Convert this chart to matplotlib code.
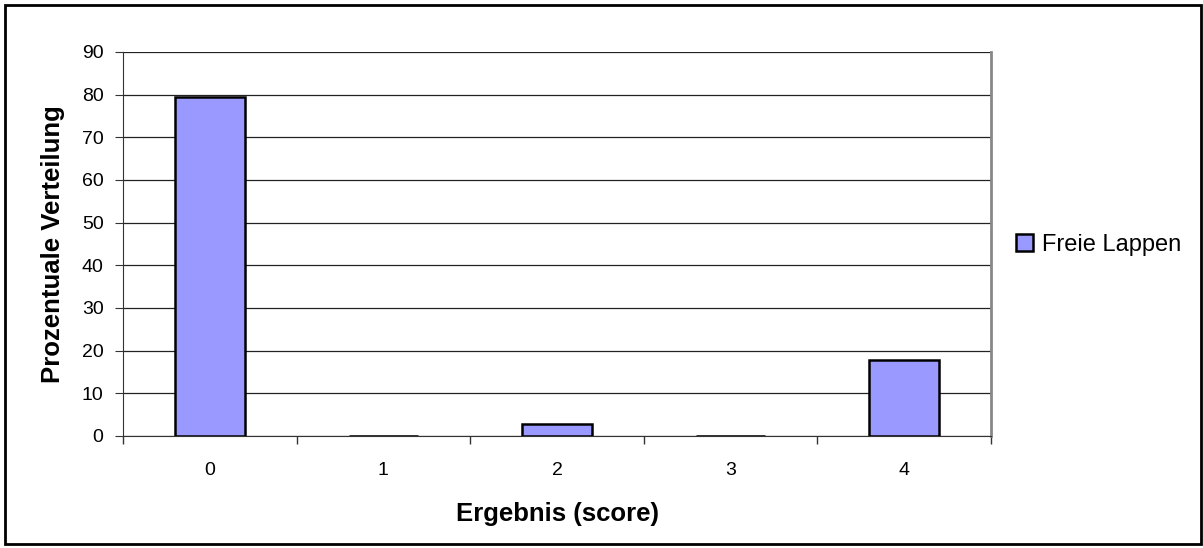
import matplotlib.pyplot as plt
import numpy as np
from matplotlib.patches import Rectangle

plt.rcParams['font.family'] = ['Liberation Sans', 'DejaVu Sans']

# Daten
kategorien = ['0', '1', '2', '3', '4']
werte = [79.4, 0, 2.9, 0, 17.7]
y_ticks = [0, 10, 20, 30, 40, 50, 60, 70, 80, 90]

W, H = 1203, 548
fig = plt.figure(figsize=(W / 100, H / 100), dpi=100)
# Rahmen um das ganze Diagramm
fig.patches.append(Rectangle((5 / W, 4 / H), 1 - 7 / W, 1 - 9 / H, transform=fig.transFigure,
                             fill=False, edgecolor='black', linewidth=2))

ax = fig.add_axes([123 / W, (H - 436) / H, (991 - 123) / W, (436 - 52) / H])
x = np.arange(len(kategorien))
ax.bar(x, werte, width=0.4, color='#9999ff', edgecolor='black', linewidth=1.8,
       label='Freie Lappen', zorder=3)

ax.set_xlim(-0.5, len(kategorien) - 0.5)
ax.set_ylim(0, 90)
ax.set_yticks(y_ticks)
ax.yaxis.grid(True, color='#222222', linewidth=0.9, zorder=0)

# x-Ticks an den Kategoriegrenzen
ax.set_xticks(x)
ax.set_xticklabels(kategorien)
ax.tick_params(axis='x', length=0, pad=19, labelsize=14)
ax.set_xticks(np.arange(-0.5, len(kategorien)), minor=True)
ax.tick_params(axis='x', which='minor', length=6, color='#333333', width=1)
ax.tick_params(axis='y', length=6, color='#333333', labelsize=14, pad=8)

ax.spines['top'].set_visible(False)
ax.spines['right'].set_color('#888888')
ax.spines['right'].set_linewidth(2)
ax.spines['left'].set_color('#333333')
ax.spines['bottom'].set_color('#333333')

ax.set_xlabel('Ergebnis (score)', fontsize=18.5, fontweight='bold', labelpad=16)
ax.set_ylabel('Prozentuale Verteilung', fontsize=18.5, fontweight='bold', labelpad=12)

fig.legend(loc='center left', bbox_to_anchor=(1016 / W, (H - 245) / H), frameon=False,
           fontsize=17, handlelength=0.7, handleheight=0.7, handletextpad=0.4,
           borderpad=0, borderaxespad=0)

fig.savefig('out.png', dpi=100)
